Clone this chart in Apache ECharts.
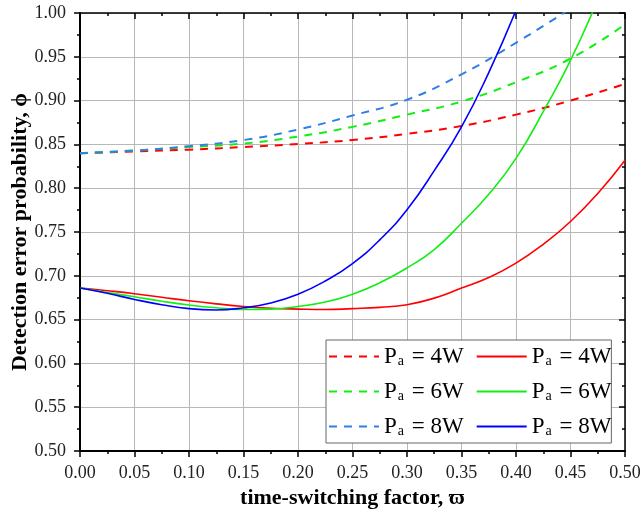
<!DOCTYPE html>
<html lang="en">
<head>
    <meta charset="UTF-8">
    <title>Detection error probability</title>
    <script src="https://cdn.jsdelivr.net/npm/echarts@6/dist/echarts.min.js"></script>
    <style type="text/css">
    html, body { margin: 0; padding: 0; background: #fff; }
    #main { width: 642px; height: 515px; }
    </style>
</head>
<body>
    <div id="main"></div>
    <script type="text/javascript">
        // x positions (time-switching factor)
        var xFine = [0, 0.025, 0.05, 0.075, 0.10, 0.125, 0.15, 0.175, 0.20, 0.225, 0.25,
                     0.275, 0.30, 0.325, 0.35, 0.375, 0.40, 0.425, 0.45, 0.475, 0.50];
        var xCoarse = [0, 0.05, 0.10, 0.15, 0.20, 0.25, 0.30, 0.35, 0.40, 0.45, 0.50];

        // dashed curves (read at xCoarse)
        var dash4 = [0.840, 0.842, 0.844, 0.847, 0.8505, 0.855, 0.862, 0.871, 0.884, 0.900, 0.919];
        var dash6 = [0.840, 0.843, 0.847, 0.851, 0.859, 0.870, 0.884, 0.899, 0.921, 0.948, 0.987];
        var dash8 = [0.840, 0.843, 0.848, 0.855, 0.867, 0.883, 0.901, 0.930, 0.966, 1.005, null];

        // solid curves (read at xFine)
        var solid4 = [0.686, 0.683, 0.6796, 0.6755, 0.6715, 0.668, 0.665, 0.663, 0.662, 0.6615, 0.6625,
                      0.664, 0.667, 0.6745, 0.686, 0.698, 0.7145, 0.736, 0.762, 0.794, 0.832];
        var solid6 = [0.686, 0.681, 0.676, 0.671, 0.6667, 0.6635, 0.6615, 0.662, 0.665, 0.670, 0.679,
                      0.692, 0.709, 0.730, 0.760, 0.793, 0.834, 0.8875, 0.946, 1.015, null];
        var solid8 = [0.686, 0.680, 0.673, 0.667, 0.6625, 0.661, 0.6635, 0.669, 0.679, 0.694, 0.714,
                      0.741, 0.7754, 0.820, 0.870, 0.932, 1.003, null, null, null, null];

        var xTicks = ['0.00', '0.05', '0.10', '0.15', '0.20', '0.25', '0.30', '0.35', '0.40', '0.45', '0.50'];

        var legendNames = {
            dash4: '4W', solid4: '4W',
            dash6: '6W', solid6: '6W',
            dash8: '8W', solid8: '8W'
        };

        function pairs(xs, ys) {
            var out = [];
            for (var i = 0; i < xs.length; i++) {
                if (ys[i] !== null) out.push([xs[i], ys[i]]);
            }
            return out;
        }

        var serif = 'Liberation Serif, Times New Roman, serif';
        var red = '#ff0000', green = '#11ee11', lightBlue = '#2f80e6', blue = '#0000ff';

        var myChart = echarts.init(document.getElementById('main'));

        function makeLine(name, xs, ys, color, dashed) {
            return {
                name: name,
                type: 'line',
                data: pairs(xs, ys),
                smooth: true,
                symbol: 'none',
                clip: true,
                lineStyle: {
                    color: color,
                    width: dashed ? 2 : 1.6,
                    type: dashed ? [8, 7] : 'solid'
                },
                itemStyle: { color: color }
            };
        }

        var axisBase = {
            type: 'value',
            axisLine: { show: true, onZero: false, lineStyle: { color: '#000', width: 2 } },
            minorTick: { show: true, splitNumber: 2, length: 3, lineStyle: { color: '#000', width: 1.5 } },
            splitLine: { show: false }
        };

        var option = {
            animation: false,
            backgroundColor: '#fff',
            grid: { left: 80, right: 17, top: 13, bottom: 64, outerBoundsMode: 'none', containLabel: false },
            legend: {
                data: ['dash4', 'solid4', 'dash6', 'solid6', 'dash8', 'solid8'],
                left: 326,
                top: 340,
                width: 290,
                padding: [5, 0, 5, 2],
                itemGap: 12,
                itemWidth: 50,
                itemHeight: 14,
                borderColor: '#666',
                borderWidth: 1,
                backgroundColor: '#fff',
                itemStyle: { color: 'transparent', borderWidth: 0, opacity: 0 },
                formatter: function(name) {
                    return '{p|P}{s|a}{q| = ' + legendNames[name] + '}';
                },
                textStyle: {
                    color: '#000',
                    fontFamily: serif,
                    rich: {
                        p: { fontSize: 23, fontFamily: serif, color: '#000' },
                        q: { fontSize: 23, fontFamily: serif, color: '#000', padding: [0, 6, 0, 0] },
                        s: { fontSize: 14, fontFamily: serif, color: '#000', padding: [9, 2, 0, 1] }
                    }
                }
            },
            xAxis: [
                Object.assign({}, axisBase, {
                    position: 'bottom',
                    min: 0, max: 0.5, interval: 0.05,
                    name: 'time-switching factor, \u03d6',
                    nameLocation: 'middle',
                    nameGap: 36,
                    nameMoveOverlap: false,
                    nameTextStyle: { fontFamily: serif, fontSize: 22, fontWeight: 'bold', color: '#000' },
                    axisTick: { show: true, inside: false, length: 6, lineStyle: { color: '#000', width: 1.5 } },
                    axisLabel: {
                        fontFamily: serif, fontSize: 18, color: '#222', margin: 13,
                        formatter: function(v) { return xTicks[Math.round(v / 0.05)]; }
                    },
                    splitLine: { show: true, lineStyle: { color: '#b8b8b8', width: 1 } }
                }),
                Object.assign({}, axisBase, {
                    position: 'top',
                    min: 0, max: 0.5, interval: 0.05,
                    axisTick: { show: true, inside: true, length: 6, lineStyle: { color: '#000', width: 1.5 } },
                    minorTick: { show: true, splitNumber: 2, length: 3, lineStyle: { color: '#000', width: 1.5 } },
                    axisLabel: { show: false },
                    axisLine: { show: true, onZero: false, lineStyle: { color: '#000', width: 1.5 } }
                })
            ],
            yAxis: [
                Object.assign({}, axisBase, {
                    position: 'left',
                    min: 0.5, max: 1.0, interval: 0.05,
                    name: 'Detection error probability, \u03d5',
                    nameLocation: 'middle',
                    nameGap: 49,
                    nameMoveOverlap: false,
                    nameTextStyle: { fontFamily: serif, fontSize: 22, fontWeight: 'bold', color: '#000' },
                    axisTick: { show: true, inside: false, length: 6, lineStyle: { color: '#000', width: 1.5 } },
                    axisLabel: {
                        fontFamily: serif, fontSize: 18, color: '#222', margin: 14,
                        formatter: function(v) { return v.toFixed(2); }
                    },
                    splitLine: { show: true, lineStyle: { color: '#b8b8b8', width: 1 } }
                }),
                Object.assign({}, axisBase, {
                    position: 'right',
                    min: 0.5, max: 1.0, interval: 0.05,
                    axisTick: { show: true, inside: true, length: 6, lineStyle: { color: '#000', width: 1.5 } },
                    axisLabel: { show: false },
                    axisLine: { show: true, onZero: false, lineStyle: { color: '#000', width: 1.5 } }
                })
            ],
            series: [
                makeLine('dash4', xCoarse, dash4, red, true),
                makeLine('dash6', xCoarse, dash6, green, true),
                makeLine('dash8', xCoarse, dash8, lightBlue, true),
                makeLine('solid4', xFine, solid4, red, false),
                makeLine('solid6', xFine, solid6, green, false),
                makeLine('solid8', xFine, solid8, blue, false)
            ]
        };

        myChart.setOption(option);
    </script>
</body>
</html>
